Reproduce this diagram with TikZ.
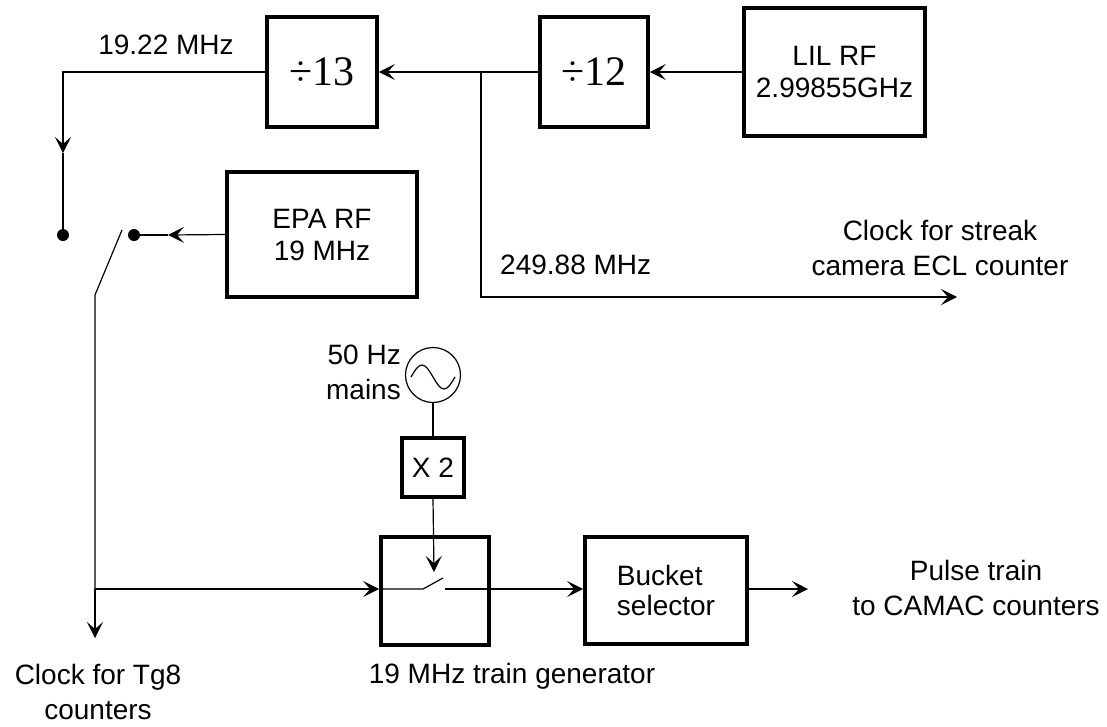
\documentclass[tikz,border=0pt]{standalone}
\usepackage{fontspec}
\setmainfont{Liberation Sans}
\newfontfamily\serifdiv{Liberation Serif}
\usetikzlibrary{arrows.meta}
\begin{document}
\begin{tikzpicture}[x=1pt,y=-1pt,
  thin line/.style={line width=1.2pt},
  arr/.style={thin line,-{Stealth[length=16pt,width=16pt,inset=7pt]}},
  blk/.style={draw,line width=3.8pt,inner sep=0pt,align=center,font=\fontsize{28}{34}\selectfont},
  divblk/.style={blk,font=\serifdiv\fontsize{42}{46}\selectfont},
  lbl/.style={inner sep=0pt,align=center,font=\fontsize{28}{35}\selectfont},
  dotn/.style={circle,fill,inner sep=0pt,minimum size=12pt}]
\useasboundingbox (0,0) rectangle (1107,726);
% blocks
\node[divblk,minimum width=110pt,minimum height=110pt] (div13) at (322,72) {÷13};
\node[divblk,minimum width=108pt,minimum height=110pt] (div12) at (594,72) {÷12};
\node[blk,minimum width=181pt,minimum height=128pt] (lil) at (834.5,72) {LIL RF\\[-2pt]2.99855GHz};
\node[blk,minimum width=190pt,minimum height=125pt] (epa) at (322,234.5) {EPA RF\\[-2pt]19 MHz};
\node[draw,thin line,circle,minimum size=55pt,inner sep=0pt] (osc) at (433,375) {};
\node[blk,minimum width=62pt,minimum height=59pt] (x2) at (433,467.5) {X 2};
\node[blk,minimum width=108pt,minimum height=108pt] (tg) at (435,591) {};
\node[blk,minimum width=162pt,minimum height=107pt,align=left] (bucket) at (666,590.5) {Bucket\\[-4pt]selector};
% dots
\node[dotn] (dotA) at (63,235) {};
\node[dotn] (dotB) at (134,235) {};
% sine in oscillator
\draw[thin line] (osc.center) ++(-22,2) sin ++(11,-12) cos ++(11,12) sin ++(11,12) cos ++(11,-12);
% coordinates
\coordinate (br) at (481,72);
\coordinate (streakend) at (957,297);
\coordinate (am) at (63,153);
\coordinate (am2) at (168,235);
\coordinate (sw1) at (122,230);
\coordinate (sw2) at (95,295);
\coordinate (jn) at (95,589);
\coordinate (tgclk) at (95,638);
\coordinate (swarr) at (434,572);
\coordinate (s1) at (423,589);
\coordinate (s2) at (443,578);
\coordinate (s3) at (445,589);
\coordinate (pulseend) at (808,589);
% connectors
\draw[arr] (lil.west) -- (div12.east);
\draw[arr] (div12.west) -- (div13.east);
\draw[arr] (br) -- (br |- streakend) -- (streakend);
\draw[arr] (div13.west) -| (am);
\draw[thin line] (am) -- (dotA.center);
\draw[arr] (epa.west) -- (am2);
\draw[thin line] (am2) -- (dotB.center);
\draw[thin line] (sw1) -- (sw2) -- (jn);
\draw[arr] (jn) -- (jn -| tg.west);
\draw[arr] (jn) -- (tgclk);
\draw[thin line] (osc.south) -- (x2.north);
\draw[arr] (x2.south) -- (swarr);
\draw[thin line] (jn -| tg.west) -- (s1) -- (s2);
\draw[arr] (s3) -- (s3 -| bucket.west);
\draw[arr] (s3 -| bucket.east) -- (pulseend);
% labels
\node[lbl] (l1922) at (166,45) {19.22 MHz};
\node[lbl,anchor=west] (l24988) at (500,265) {249.88 MHz};
\node[lbl] (lstreak) at (940,248) {Clock for streak\\camera ECL counter};
\node[lbl,align=right,anchor=east] (lmains) at (401,372) {50 Hz\\mains};
\node[lbl] (ltg8) at (98,692) {Clock for Tg8\\counters};
\node[lbl] (ltrain) at (512,676) {19 MHz train generator};
\node[lbl] (lpulse) at (976,588) {Pulse train\\to CAMAC counters};
\end{tikzpicture}
\end{document}
